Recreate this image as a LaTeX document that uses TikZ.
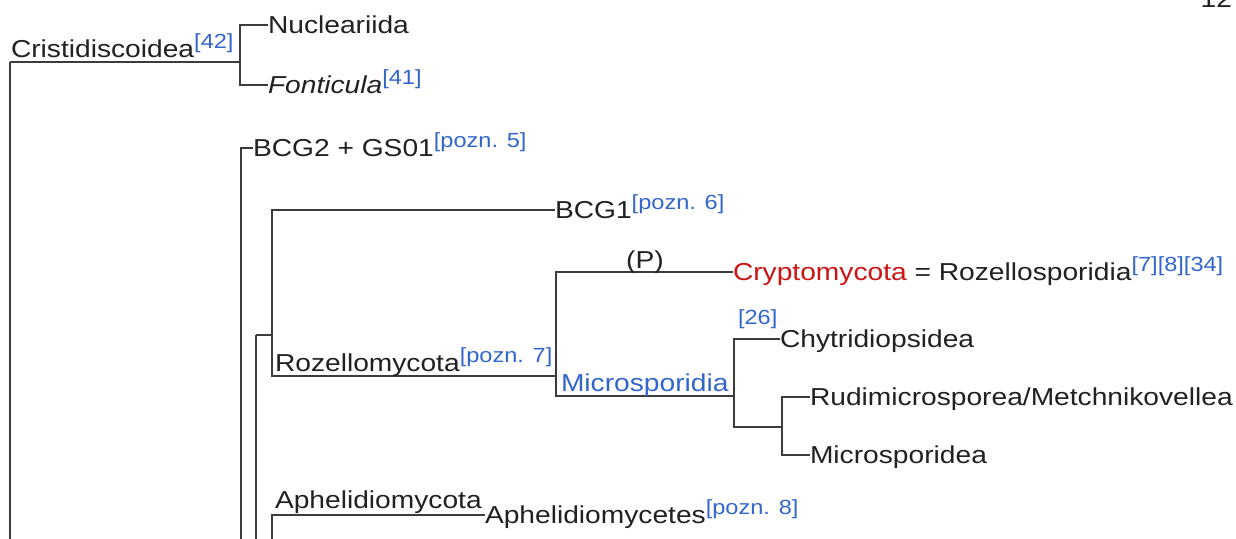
\documentclass[tikz,border=0pt]{standalone}
\usepackage{fontspec}
\setmainfont{Liberation Sans}[FakeStretch=1.15]
\definecolor{ink}{RGB}{32,33,34}
\definecolor{linkblue}{RGB}{51,102,204}
\definecolor{redlink}{RGB}{204,20,20}
\definecolor{branch}{RGB}{60,60,60}
\newcommand{\mainsz}{\fontsize{24.5}{29}\selectfont}
\newcommand{\refsz}{\fontsize{20.5}{24}\selectfont}
\newcommand{\refsup}[1]{\raisebox{9pt}{\refsz\color{linkblue}#1}}
\begin{document}
\begin{tikzpicture}[x=1pt,y=-1pt,
  every node/.style={inner sep=0pt, outer sep=0pt, text=ink, font=\mainsz},
  leaf/.style={anchor=west, text height=17.5pt, text depth=0pt},
  lbl/.style={anchor=base west},
  br/.style={draw=branch, line width=1.7pt}]
\useasboundingbox (0,0) rectangle (1236,538);
\clip (0,0) rectangle (1236,538);
% root and Cristidiscoidea
\coordinate (root) at (10,62);
\coordinate (rootend) at (10,560);
\coordinate (cris) at (240,62);
\node[leaf] (nuc) at (268,25) {Nucleariida};
\node[leaf] (fon) at (268,85) {\itshape Fonticula\refsup{\upshape[41]}};
\draw[br] (root) -- (rootend);
\draw[br] (root) -- (cris);
\draw[br] (nuc.west) -| (cris);
\draw[br] (fon.west) -| (cris);
\node[lbl] (crisl) at (11,57) {Cristidiscoidea\refsup{[42]}};
% Holomycota side
\coordinate (holo) at (241,560);
\node[leaf] (bcg2) at (253,148) {BCG2 + GS01\refsup{[pozn. 5]}};
\draw[br] (bcg2.west) -| (holo);
\coordinate (n3) at (256,335);
\coordinate (n3end) at (256,560);
\draw[br] (n3) -- (n3end);
\coordinate (n4) at (272,335);
\draw[br] (n3) -- (n4);
\node[leaf] (bcg1) at (555,210) {BCG1\refsup{[pozn. 6]}};
\draw[br] (bcg1.west) -| (n4);
\coordinate (n5) at (556,376);
\draw[br] (n5) -| (n4);
\node[lbl] (rozl) at (275,371) {Rozellomycota\refsup{[pozn. 7]}};
\node[leaf] (crypto) at (733,272) {\textcolor{redlink}{Cryptomycota} = Rozellosporidia\refsup{[7][8][34]}};
\draw[br] (crypto.west) -| (n5);
\node[lbl] (pl) [anchor=base] at (645,268) {(P)};
\coordinate (micro) at (734,396);
\draw[br] (n5) |- (micro);
\node[lbl, text=linkblue] (microl) at (561,391) {Microsporidia};
\node[leaf] (chy) at (780,339) {Chytridiopsidea};
\draw[br] (chy.west) -| (micro);
\node[lbl, font=\refsz, text=linkblue] (r26) at (738,324) {[26]};
\coordinate (n7) at (782,427);
\draw[br] (n7) -| (micro);
\node[leaf] (rud) at (810,397) {Rudimicrosporea/Metchnikovellea};
\node[leaf] (mic) at (810,455) {Microsporidea};
\draw[br] (rud.west) -| (n7);
\draw[br] (mic.west) -| (n7);
% Aphelidiomycota
\coordinate (aph) at (272,560);
\node[leaf] (aphc) at (485,515) {Aphelidiomycetes\refsup{[pozn. 8]}};
\draw[br] (aphc.west) -| (aph);
\node[lbl] (aphl) at (275,508) {Aphelidiomycota};
% cut-off text at top right
\node[anchor=base east] (twelve) at (1232,8) {12};
\end{tikzpicture}
\end{document}
